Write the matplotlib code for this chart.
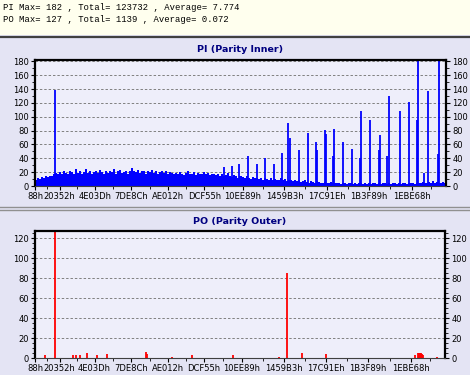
import numpy as np
import matplotlib
matplotlib.use("Agg")
import matplotlib.pyplot as plt
from matplotlib.patches import Rectangle
from matplotlib.lines import Line2D

# x axis = sector address (LBA), tick labels in hex
tick_labels = ["88h", "20352h", "4E03Dh", "7DE8Ch", "AE012h", "DCF55h",
               "10EE89h", "1459B3h", "17C91Eh", "1B3F89h", "1EBE68h"]
tick_pos = [int(t[:-1], 16) for t in tick_labels]
x_end = 2197600

# PI baseline, one value per sample block
pi_base = [9, 12, 10, 13, 11, 14, 13, 15, 14, 17,
           19, 17, 20, 18, 21, 19, 17, 22, 20, 18, 25, 19, 21, 18, 20, 24, 19, 22, 18, 20,
           21, 19, 23, 20, 18, 22, 19, 21, 20, 24, 18, 21, 23, 19, 20, 22, 18, 21, 26, 22,
           20, 23, 19, 22, 21, 18, 22, 20, 23, 19, 21, 18, 20, 22, 19, 21, 17, 20, 19, 18,
           19, 17, 20, 18, 16, 19, 21, 17, 18, 20, 16, 19, 17, 18, 20, 17, 19, 16, 18, 17,
           16, 18, 15, 17, 14, 16, 19, 15, 13, 16, 14, 12, 15, 13, 11, 14, 12, 10, 13, 11,
           12, 10, 11, 9, 12, 10, 8, 11, 9, 10, 8, 9, 11, 8, 10, 7, 9, 8, 7, 9,
           7, 8, 6, 7, 8, 6, 5, 7, 6, 5, 7, 6, 5, 4, 6, 5, 4, 6, 5, 4,
           5, 4, 3, 5, 4, 3, 4, 5, 3, 4, 3, 4, 5, 3, 4, 3, 4, 3, 5, 4,
           3, 4, 3, 5, 4, 3, 4, 3, 5, 4, 3, 4, 3, 4, 5, 3, 4, 5, 4, 3,
           4, 5, 4, 6, 5, 4, 6, 5, 7, 5, 6, 4, 5, 6, 5]

# PI spikes (LBA, value)
pi_spike_lba = [107200, 1013040, 1055920, 1093440, 1136320, 1184560, 1227440,
                1275680, 1318560, 1350720, 1361440, 1409680, 1457920, 1500800,
                1506160, 1549040, 1554400, 1591920, 1597280, 1645520, 1693760,
                1736640, 1742000, 1790240, 1838480, 1843840, 1881360, 1892080,
                1951040, 1999280, 2042160, 2047520, 2079680, 2101120, 2154720,
                2160080]
pi_spike_val = [138, 28, 29, 32, 43, 32, 40, 32, 47, 91, 70, 52, 77, 64, 52, 81,
                75, 44, 82, 64, 53, 40, 109, 96, 52, 73, 43, 130, 109, 122, 96,
                182, 19, 137, 46, 180]

# PO errors (LBA, value)
po_lba = [53600, 107200, 203680, 219760, 241200, 278720, 332320, 385920,
          594960, 600320, 734320, 841520, 1061280, 1307840, 1350720, 1431120,
          1559760, 2036800, 2052880, 2058240, 2063600, 2068960, 2074320,
          2079680, 2154720]
po_val = [3, 127, 3, 3, 3, 5, 3, 4, 6, 4, 1, 3, 3, 1, 85, 5, 4, 3, 5, 5, 5,
          5, 4, 3, 1]

W, H = 470, 375
fig = plt.figure(figsize=(W / 100, H / 100), dpi=100)
fig.patch.set_facecolor("#e4e4f4")

def fy(y):
    return 1 - y / H

# header and separators
fig.patches.append(Rectangle((0, fy(35)), 1, 35 / H, transform=fig.transFigure,
                             facecolor="#ffffee", edgecolor="none", zorder=0))
for y, c, lw in [(36.5, "#404040", 1.6), (207, "#909090", 1.0), (210, "#909090", 1.0)]:
    fig.add_artist(Line2D([0, 1], [fy(y), fy(y)], color=c, lw=lw,
                          transform=fig.transFigure))

mono = "Liberation Mono"
fig.text(3 / W, fy(8), "PI Max= 182 , Total= 123732 , Average= 7.774",
         family=mono, fontsize=6.4, va="center", ha="left")
fig.text(3 / W, fy(20), "PO Max= 127 , Total= 1139 , Average= 0.072",
         family=mono, fontsize=6.4, va="center", ha="left")

step = 10720
base_x = np.arange(len(pi_base)) * step + step / 2

def style(ax, ymax, major, minor, title, title_y):
    ax.set_facecolor("#eeeefa")
    ax.set_xlim(0, x_end)
    ax.set_ylim(0, ymax)
    ax.set_yticks(np.arange(0, ymax + 1, major))
    ax.set_yticks(np.arange(0, ymax + 1, minor), minor=True)
    ax.set_xticks(tick_pos)
    ax.set_xticklabels(tick_labels)
    mids = [(a + b) / 2 for a, b in zip(tick_pos[:-1], tick_pos[1:])]
    ax.set_xticks(mids + [tick_pos[-1] + 100000], minor=True)
    ax.tick_params(axis="both", which="major", labelsize=6, length=3, width=0.8,
                   pad=1.5, colors="black")
    ax.tick_params(axis="y", which="both", left=True, right=True,
                   labelleft=True, labelright=True)
    ax.tick_params(axis="y", which="minor", length=2, width=0.6)
    ax.tick_params(axis="x", which="minor", length=2, width=0.6)
    ax.grid(axis="y", which="major", color="#808080", lw=0.7, ls=(0, (2.5, 2)))
    ax.set_axisbelow(True)
    for s in ["left", "top", "right"]:
        ax.spines[s].set_linewidth(1.6)
        ax.spines[s].set_color("black")
    ax.spines["bottom"].set_linewidth(0.8)
    ax.spines["bottom"].set_color("#404040")
    fig.text(0.51, fy(title_y), title, ha="center", va="center",
             fontsize=6.8, fontweight="bold", color="#000080")

ax1 = fig.add_axes([35 / W, fy(186), 411 / W, 126 / H])
ax1.bar(base_x, pi_base, width=step, color="#0000ff", linewidth=0)
ax1.vlines(pi_spike_lba, 0, pi_spike_val, color="#0000ff", lw=1.3)
style(ax1, 182, 20, 10, "PI (Parity Inner)", 49)

ax2 = fig.add_axes([35 / W, fy(358), 410 / W, 127 / H])
ax2.vlines(po_lba, 0, po_val, color="#ff0000", lw=1.3)
style(ax2, 127, 20, 5, "PO (Parity Outer)", 222)

fig.savefig("out.png", dpi=100, facecolor=fig.get_facecolor())
